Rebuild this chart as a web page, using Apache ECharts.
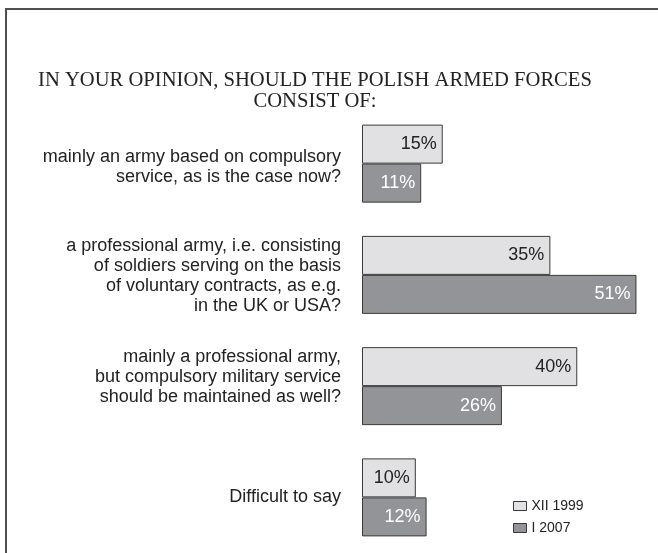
<!DOCTYPE html>
<html>
<head>
<meta charset="utf-8">
<script src="https://cdn.jsdelivr.net/npm/echarts@6/dist/echarts.min.js"></script>
<style>
  html, body { margin: 0; padding: 0; background: #ffffff; }
  #chart { width: 658px; height: 553px; }
</style>
</head>
<body>
<div id="chart"></div>
<script>
// Survey answers (top to bottom)
const categories = [
  'mainly an army based on compulsory\nservice, as is the case now?',
  'a professional army, i.e. consisting\nof soldiers serving on the basis\nof voluntary contracts, as e.g.\nin the UK or USA?',
  'mainly a professional army,\nbut compulsory military service\nshould be maintained as well?',
  'Difficult to say'
];
const seriesNames = ['XII 1999', 'I 2007'];
const values1999 = [15, 35, 40, 10];
const values2007 = [11, 51, 26, 12];
const titleText = 'IN YOUR OPINION, SHOULD THE POLISH ARMED FORCES\nCONSIST OF:';

const lightFill = '#e1e1e3';
const darkFill = '#939497';
const edge = '#3a3a3a';

// vertical nudge of each category caption (px, positive = down)
const captionShift = [3, 1, -9, 0];

function captionRich(value, index) {
  const d = captionShift[index] || 0;
  const body = '{t|' + value + '}';
  if (d > 0) return '{s' + index + '| }\n' + body;
  if (d < 0) return body + '\n{s' + index + '| }';
  return body;
}

const rich = { t: { fontFamily: 'Liberation Sans', fontSize: 18, lineHeight: 20, color: '#222222', align: 'right' } };
captionShift.forEach(function (d, i) {
  rich['s' + i] = { fontSize: 1, lineHeight: Math.abs(d) * 2, align: 'right' };
});

const chart = echarts.init(document.getElementById('chart'), null, { renderer: 'canvas' });

chart.setOption({
  animation: false,
  backgroundColor: '#ffffff',
  title: {
    text: titleText,
    left: 310,
    top: 65,
    textAlign: 'center',
    textStyle: {
      fontFamily: 'Liberation Serif',
      fontSize: 20.6,
      fontWeight: 'normal',
      color: '#222222',
      lineHeight: 21
    }
  },
  graphic: [
    {
      type: 'rect',
      shape: { x: 6, y: 9, width: 720, height: 620 },
      style: { fill: 'none', stroke: '#505050', lineWidth: 2 },
      silent: true
    }
  ],
  legend: {
    orient: 'vertical',
    left: 508,
    top: 494,
    itemWidth: 13,
    itemHeight: 9,
    itemGap: 8,
    icon: 'rect',
    textStyle: { fontFamily: 'Liberation Sans', fontSize: 14, color: '#222222' },
    data: [
      { name: seriesNames[0], itemStyle: { color: lightFill, borderColor: edge, borderWidth: 1 } },
      { name: seriesNames[1], itemStyle: { color: darkFill, borderColor: edge, borderWidth: 1 } }
    ]
  },
  grid: {
    left: 362,
    top: 108,
    width: 297,
    height: 446,
    containLabel: false
  },
  xAxis: {
    type: 'value',
    min: 0,
    max: 55,
    show: false
  },
  yAxis: {
    type: 'category',
    inverse: true,
    data: categories,
    axisLine: { show: false },
    axisTick: { show: false },
    axisLabel: {
      margin: 21,
      align: 'right',
      formatter: captionRich,
      rich: rich
    }
  },
  series: [
    {
      name: seriesNames[0],
      type: 'bar',
      data: values1999,
      barWidth: 39,
      barGap: '0%',
      itemStyle: { color: lightFill, borderColor: edge, borderWidth: 1 },
      label: {
        show: true,
        position: 'insideRight',
        distance: 6,
        formatter: '{c}%',
        fontFamily: 'Liberation Sans',
        fontSize: 18,
        color: '#222222'
      }
    },
    {
      name: seriesNames[1],
      type: 'bar',
      data: values2007,
      barWidth: 39,
      barGap: '0%',
      itemStyle: { color: darkFill, borderColor: edge, borderWidth: 1 },
      label: {
        show: true,
        position: 'insideRight',
        distance: 6,
        formatter: '{c}%',
        fontFamily: 'Liberation Sans',
        fontSize: 18,
        color: '#ffffff'
      }
    }
  ]
});
</script>
</body>
</html>
